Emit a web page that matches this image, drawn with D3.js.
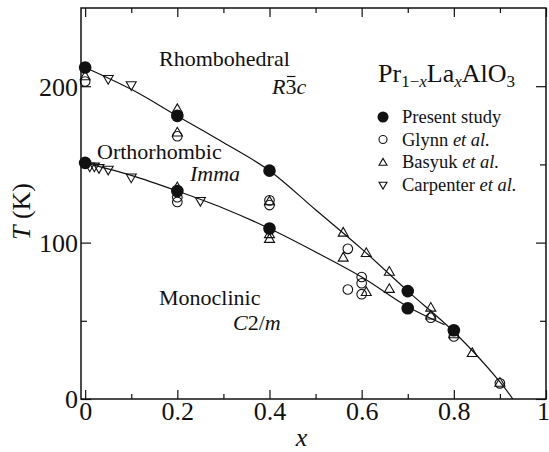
<!DOCTYPE html>
<html>
<head>
<meta charset="utf-8">
<script src="https://cdn.jsdelivr.net/npm/d3@7"></script>
<style>
  html, body { margin: 0; padding: 0; background: #fff; }
  svg { display: block; }
  svg text { font-family: "Liberation Serif", "DejaVu Serif", serif; }
</style>
</head>
<body>
<svg id="chart" width="549" height="452" font-family="Liberation Serif"></svg>
<script>
// Transition temperatures of Pr(1-x)La(x)AlO3 versus La content x
const presentStudy = [
  [0, 212], [0.2, 181], [0.4, 146], [0.7, 69],
  [0, 151], [0.2, 133], [0.4, 109], [0.7, 58], [0.8, 44]
];
const glynn = [
  [0, 203], [0.2, 168], [0.2, 129], [0.2, 126], [0.4, 127], [0.4, 124],
  [0.57, 96], [0.57, 70], [0.6, 78], [0.6, 74], [0.6, 67],
  [0.75, 52], [0.8, 40], [0.9, 10]
];
const basyuk = [
  [0, 206], [0.2, 185], [0.2, 170], [0.2, 135], [0.4, 126], [0.4, 105], [0.4, 102],
  [0.56, 106], [0.56, 90], [0.61, 93], [0.61, 68], [0.66, 81], [0.66, 70],
  [0.75, 58], [0.75, 53], [0.8, 41], [0.84, 29], [0.9, 10]
];
const carpenter = [
  [0.05, 205], [0.1, 201],
  [0.01, 149], [0.02, 149], [0.03, 148], [0.05, 147], [0.1, 142], [0.25, 127]
];
// Guide curves: rhombohedral boundary and orthorhombic boundary
const upperBoundary = [
  [0, 212], [0.1, 198], [0.2, 181], [0.3, 164], [0.4, 146], [0.5, 121],
  [0.6, 96], [0.7, 69], [0.8, 43], [0.9, 11], [0.928, 0]
];
const lowerBoundary = [
  [0, 151], [0.1, 143], [0.2, 133], [0.3, 122], [0.4, 109], [0.5, 94],
  [0.6, 78], [0.7, 59], [0.78, 47.5]
];
const xMajorTicks = [0, 0.2, 0.4, 0.6, 0.8, 1];
const xTickLabels = ["0", "0.2", "0.4", "0.6", "0.8", "1"];
const xMinorTicks = [0.1, 0.3, 0.5, 0.7, 0.9];
const yMajorTicks = [0, 100, 200];
const yMinorTicks = [50, 150];

const FONT = "Liberation Serif";
const INK = "#111";
const svg = d3.select("#chart");
const padL = 81, padR = 546, padT = 8, padB = 399;

const x = d3.scaleLinear().domain([-0.009, 1]).range([padL, padR]);
const y = d3.scaleLinear().domain([0, 250]).range([padB, padT]);

const FS = 26;

// Axes (ticks pointing inward)
function axisGroup(axis, tr) {
  const g = svg.append("g").attr("transform", tr).call(axis);
  g.attr("font-family", FONT).attr("font-size", FS);
  g.select(".domain").remove();
  g.selectAll("line").attr("stroke", INK).attr("stroke-width", 1.2);
  g.selectAll("text").attr("font-family", FONT).attr("font-size", FS).attr("fill", INK);
  return g;
}
// bottom
axisGroup(d3.axisTop(x).tickValues(xMajorTicks).tickSize(9).tickFormat(""), `translate(0,${padB})`);
axisGroup(d3.axisTop(x).tickValues(xMinorTicks).tickSize(5).tickFormat(""), `translate(0,${padB})`);
// top
axisGroup(d3.axisBottom(x).tickValues(xMajorTicks).tickSize(9).tickFormat(""), `translate(0,${padT})`);
axisGroup(d3.axisBottom(x).tickValues(xMinorTicks).tickSize(5).tickFormat(""), `translate(0,${padT})`);
// left
axisGroup(d3.axisRight(y).tickValues(yMajorTicks).tickSize(10).tickFormat(""), `translate(${padL},0)`);
axisGroup(d3.axisRight(y).tickValues(yMinorTicks).tickSize(6).tickFormat(""), `translate(${padL},0)`);
// right
axisGroup(d3.axisLeft(y).tickValues(yMajorTicks).tickSize(10).tickFormat(""), `translate(${padR},0)`);
axisGroup(d3.axisLeft(y).tickValues(yMinorTicks).tickSize(6).tickFormat(""), `translate(${padR},0)`);

// tick labels
const xl = axisGroup(d3.axisBottom(x).tickValues(xMajorTicks).tickSize(0).tickPadding(3)
  .tickFormat((d, i) => xTickLabels[i]), `translate(0,${padB})`);
xl.selectAll("text").attr("dy", "0.71em")
  .attr("dx", d => d === 1 ? -3 : 0);
const yl = axisGroup(d3.axisLeft(y).tickValues(yMajorTicks).tickSize(0).tickPadding(3)
  .tickFormat(d3.format("d")), `translate(${padL},0)`);
yl.selectAll("text").attr("dy", "0.34em");

// frame
svg.append("rect").attr("x", padL).attr("y", padT)
  .attr("width", padR - padL).attr("height", padB - padT)
  .attr("fill", "none").attr("stroke", INK).attr("stroke-width", 1.5);

// axis titles
const yt = svg.append("text")
  .attr("transform", `translate(30,${(padT + padB) / 2 + 8}) rotate(-90)`)
  .attr("text-anchor", "middle").attr("font-family", FONT).attr("font-size", FS).attr("fill", INK);
yt.append("tspan").attr("font-style", "italic").text("T");
yt.append("tspan").text(" (K)");
svg.append("text").attr("x", (x(0) + x(1)) / 2 - 14).attr("y", 446)
  .attr("text-anchor", "middle").attr("font-family", FONT).attr("font-size", FS)
  .attr("font-style", "italic").attr("fill", INK).text("x");

// boundary curves
const line = d3.line().x(d => x(d[0])).y(d => y(d[1])).curve(d3.curveCatmullRom.alpha(0.5));
const clipId = "plotClip";
svg.append("clipPath").attr("id", clipId).append("rect")
  .attr("x", padL).attr("y", padT).attr("width", padR - padL).attr("height", padB - padT);
[upperBoundary, lowerBoundary].forEach(b => {
  svg.append("path").datum(b).attr("d", line).attr("fill", "none")
    .attr("stroke", INK).attr("stroke-width", 1.2).attr("clip-path", `url(#${clipId})`);
});

// markers
function triPath(s, down) {
  const h = s * Math.sqrt(3) / 2;
  return down
    ? `M${-s / 2},${-h / 3}L${s / 2},${-h / 3}L0,${2 * h / 3}Z`
    : `M${-s / 2},${h / 3}L${s / 2},${h / 3}L0,${-2 * h / 3}Z`;
}
const marks = svg.append("g");
marks.selectAll(".carp").data(carpenter).join("path")
  .attr("transform", d => `translate(${x(d[0])},${y(d[1])})`)
  .attr("d", triPath(10, true)).attr("fill", "none").attr("stroke", INK).attr("stroke-width", 1.1);
marks.selectAll(".bas").data(basyuk).join("path")
  .attr("transform", d => `translate(${x(d[0])},${y(d[1])})`)
  .attr("d", triPath(10, false)).attr("fill", "none").attr("stroke", INK).attr("stroke-width", 1.1);
marks.selectAll(".gly").data(glynn).join("circle")
  .attr("cx", d => x(d[0])).attr("cy", d => y(d[1])).attr("r", 4.8)
  .attr("fill", "none").attr("stroke", INK).attr("stroke-width", 1.1);
marks.selectAll(".pres").data(presentStudy).join("circle")
  .attr("cx", d => x(d[0])).attr("cy", d => y(d[1])).attr("r", 6.3)
  .attr("fill", INK);

// phase labels
function label(xp, yp, parts, size) {
  const t = svg.append("text").attr("x", xp).attr("y", yp)
    .attr("font-family", FONT).attr("font-size", size || 22).attr("fill", INK);
  parts.forEach(p => {
    const s = t.append("tspan").text(p.t);
    if (p.i) s.attr("font-style", "italic");
  });
  return t;
}
label(159, 66, [{ t: "Rhombohedral" }]);
const rsg = label(272, 94, [{ t: "R", i: 1 }, { t: "3" }, { t: "c", i: 1 }]);
// bar over the 3 in the space-group symbol
{
  const ext = rsg.node().getExtentOfChar(1);
  svg.append("line")
    .attr("x1", ext.x + 1.5).attr("x2", ext.x + ext.width - 1)
    .attr("y1", 94 - 17.5).attr("y2", 94 - 17.5)
    .attr("stroke", INK).attr("stroke-width", 1.2);
}
label(97, 159, [{ t: "Orthorhombic" }]);
label(190, 181, [{ t: "Imma", i: 1 }]);
label(159, 305, [{ t: "Monoclinic" }]);
label(233, 330, [{ t: "C", i: 1 }, { t: "2/" }, { t: "m", i: 1 }]);

// compound title
const title = svg.append("text").attr("x", 378).attr("y", 82)
  .attr("font-family", FONT).attr("font-size", 26).attr("fill", INK);
title.append("tspan").text("Pr");
title.append("tspan").attr("font-size", 17).attr("dy", 5).text("1−");
title.append("tspan").attr("font-size", 17).attr("font-style", "italic").text("x");
title.append("tspan").attr("dy", -5).text("La");
title.append("tspan").attr("font-size", 17).attr("dy", 5).attr("font-style", "italic").text("x");
title.append("tspan").attr("dy", -5).text("AlO");
title.append("tspan").attr("font-size", 17).attr("dy", 5).text("3");

// legend
const legendItems = [
  { name: "Present study", etal: false, kind: "filled" },
  { name: "Glynn ", etal: true, kind: "open" },
  { name: "Basyuk ", etal: true, kind: "up" },
  { name: "Carpenter ", etal: true, kind: "down" }
];
const lg = svg.append("g");
legendItems.forEach((it, i) => {
  const cy = 117 + i * 22.5;
  const mx = 383;
  if (it.kind === "filled") lg.append("circle").attr("cx", mx).attr("cy", cy).attr("r", 5.5).attr("fill", INK);
  if (it.kind === "open") lg.append("circle").attr("cx", mx).attr("cy", cy).attr("r", 4).attr("fill", "none").attr("stroke", INK).attr("stroke-width", 1.1);
  if (it.kind === "up") lg.append("path").attr("transform", `translate(${mx},${cy + 1})`).attr("d", triPath(8, false)).attr("fill", "none").attr("stroke", INK).attr("stroke-width", 1.1);
  if (it.kind === "down") lg.append("path").attr("transform", `translate(${mx},${cy})`).attr("d", triPath(8, true)).attr("fill", "none").attr("stroke", INK).attr("stroke-width", 1.1);
  const t = lg.append("text").attr("x", 402).attr("y", cy + 6)
    .attr("font-family", FONT).attr("font-size", 18.5).attr("fill", INK);
  t.append("tspan").text(it.name);
  if (it.etal) t.append("tspan").attr("font-style", "italic").text("et al.");
});
</script>
</body>
</html>
